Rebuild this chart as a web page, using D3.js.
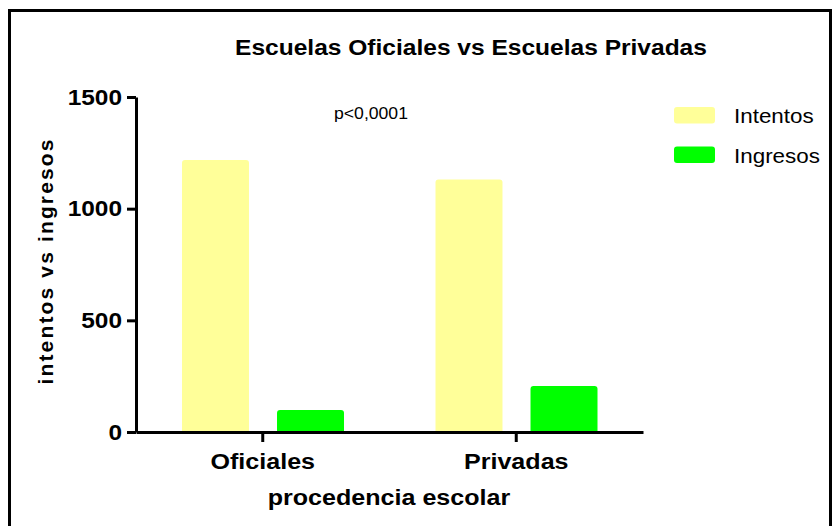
<!DOCTYPE html>
<html>
<head>
<meta charset="utf-8">
<script src="https://cdn.jsdelivr.net/npm/d3@7"></script>
<style>
  body { margin: 0; background: #fff; }
  text { font-family: "Liberation Sans", Arial, sans-serif; fill: #000; }
</style>
</head>
<body>
<svg id="chart"></svg>
<script>
// data
var categories = ["Oficiales", "Privadas"];
var series = ["Intentos", "Ingresos"];
var intentos = [1218, 1131];
var ingresos = [99, 206];
var yTicks = [0, 500, 1000, 1500];
var colors = ["#ffff99", "#00ff00"];

window.onload = function() {
    var width = 839,
        height = 526;

    var svg = d3.select("#chart")
        .attr("width", width)
        .attr("height", height);

    // frame
    svg.append("rect")
        .attr("x", 9.5).attr("y", 10.5)
        .attr("width", 821).attr("height", 540)
        .attr("fill", "none")
        .attr("stroke", "#000")
        .attr("stroke-width", 3);

    var y = d3.scaleLinear().domain([0, 1500]).range([432, 97]);
    var x = d3.scaleBand().domain(categories).range([136, 643]);
    var x1 = d3.scaleBand().domain(series).range([46, 208]).paddingInner(0.295);

    var rows = categories.map(function(c, i) {
        return {cat: c, values: [intentos[i], ingresos[i]]};
    });

    // bars
    var g = svg.selectAll("g.group")
        .data(rows)
        .enter().append("g")
        .attr("class", "group")
        .attr("transform", function(d) { return "translate(" + x(d.cat) + ",0)"; });

    g.selectAll("path")
        .data(function(d) {
            return d.values.map(function(v, j) { return {s: series[j], v: v, j: j}; });
        })
        .enter().append("path")
        .attr("fill", function(d) { return colors[d.j]; })
        .attr("d", function(d) {
            var bx = x1(d.s),
                bw = x1.bandwidth(),
                top = y(d.v), bot = y(0), r = 3;
            return "M" + bx + "," + bot + "V" + (top + r) +
                "Q" + bx + "," + top + " " + (bx + r) + "," + top +
                "H" + (bx + bw - r) +
                "Q" + (bx + bw) + "," + top + " " + (bx + bw) + "," + (top + r) +
                "V" + bot + "Z";
        });

    // the picture is stretched sideways, so stretch the glyphs too
    function widen(sel, k) {
        sel.each(function() {
            var n = this.getComputedTextLength();
            d3.select(this).attr("textLength", n * k).attr("lengthAdjust", "spacingAndGlyphs");
        });
    }

    // y axis
    var yAxis = svg.append("g")
        .attr("transform", "translate(136,0)")
        .call(d3.axisLeft(y).tickValues(yTicks).tickFormat(d3.format("d"))
              .tickSize(9).tickSizeOuter(0).tickPadding(5));
    yAxis.selectAll("path, line").attr("stroke", "#000").attr("stroke-width", 3);
    yAxis.selectAll("text")
        .style("font-size", "22px").style("font-weight", "bold")
        .attr("font-family", null).attr("fill", null)
        .call(widen, 1.11);

    // x axis
    var xAxis = svg.append("g")
        .attr("transform", "translate(0,432)")
        .call(d3.axisBottom(x).tickSize(10).tickSizeOuter(0).tickPadding(11));
    xAxis.selectAll("path, line").attr("stroke", "#000").attr("stroke-width", 3);
    xAxis.selectAll("text")
        .style("font-size", "22px").style("font-weight", "bold")
        .attr("font-family", null).attr("fill", null)
        .call(widen, 1.14);

    // titles
    svg.append("text")
        .attr("x", 471).attr("y", 55)
        .attr("text-anchor", "middle")
        .style("font-size", "22px").style("font-weight", "bold")
        .text("Escuelas Oficiales vs Escuelas Privadas")
        .call(widen, 1.115);

    svg.append("text")
        .attr("x", 371).attr("y", 119)
        .attr("text-anchor", "middle")
        .style("font-size", "16px")
        .text("p<0,0001")
        .call(widen, 1.1);

    svg.append("text")
        .attr("x", 389).attr("y", 505)
        .attr("text-anchor", "middle")
        .style("font-size", "22px").style("font-weight", "bold")
        .text("procedencia escolar")
        .call(widen, 1.14);

    svg.append("text")
        .attr("transform", "translate(53,262) rotate(-90)")
        .attr("text-anchor", "middle")
        .style("font-size", "21px").style("font-weight", "bold")
        .attr("textLength", 245).attr("lengthAdjust", "spacing")
        .text("intentos vs ingresos");

    // legend
    var leg = svg.selectAll("g.legend")
        .data(series)
        .enter().append("g")
        .attr("class", "legend")
        .attr("transform", function(d, i) { return "translate(674," + (107 + i * 39.5) + ")"; });

    leg.append("rect")
        .attr("width", 41).attr("height", 16.5)
        .attr("rx", 3)
        .attr("fill", function(d, i) { return colors[i]; });

    leg.append("text")
        .attr("x", 60).attr("y", 16)
        .style("font-size", "20px")
        .text(function(d) { return d; })
        .call(widen, 1.12);
};
</script>
</body>
</html>
